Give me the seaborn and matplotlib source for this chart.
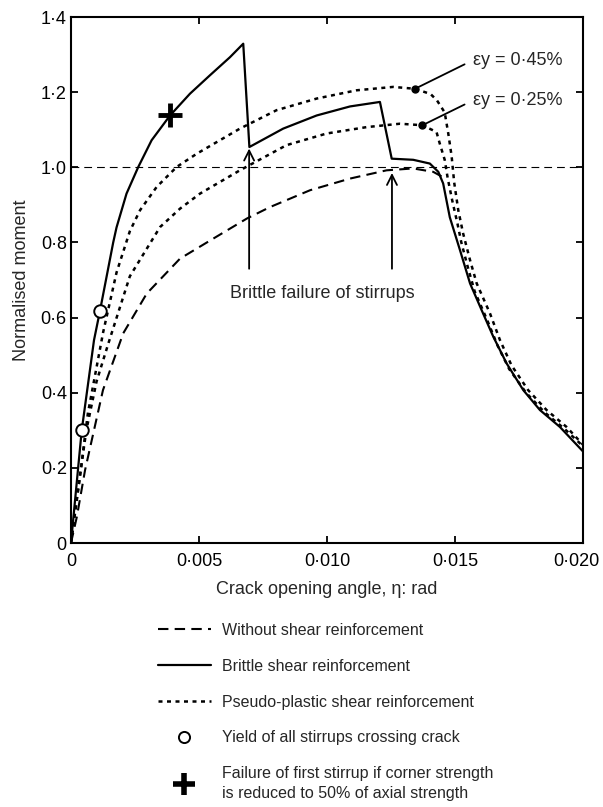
import matplotlib
matplotlib.use("Agg")
import matplotlib.pyplot as plt
from matplotlib.lines import Line2D
from matplotlib.ticker import FixedLocator, FixedFormatter
from matplotlib.transforms import ScaledTranslation
import seaborn as sns


# crack opening angle (rad) / normalised moment
brittle_x = [0, 0.00042, 0.0009, 0.00113, 0.00165, 0.00178, 0.00217, 0.00263,
             0.00315, 0.00387, 0.00465, 0.00543, 0.00621, 0.00673, 0.00697,
             0.00829, 0.0096, 0.0109, 0.01207, 0.01253, 0.01337, 0.01402,
             0.01435, 0.01454, 0.0148, 0.0152, 0.01559, 0.0161, 0.0165,
             0.01702, 0.01767, 0.01832, 0.0191, 0.020]
brittle_y = [0, 0.30, 0.54, 0.617, 0.80, 0.84, 0.93, 1.001,
             1.072, 1.138, 1.196, 1.245, 1.293, 1.329, 1.054,
             1.103, 1.138, 1.162, 1.174, 1.023, 1.02, 1.01,
             0.988, 0.957, 0.867, 0.779, 0.691, 0.611, 0.549,
             0.478, 0.407, 0.354, 0.309, 0.244]

plastic45_x = [0, 0.0003, 0.00066, 0.00126, 0.00178, 0.0023, 0.0027, 0.00335,
               0.00413, 0.00491, 0.00569, 0.0066, 0.00803, 0.0096, 0.01116,
               0.01259, 0.01344, 0.01405, 0.0143, 0.0146, 0.01474, 0.01487,
               0.01497, 0.01513, 0.01532, 0.01559, 0.01585, 0.01637, 0.01676,
               0.01721, 0.01786, 0.01858, 0.01936, 0.020]
plastic45_y = [0, 0.15, 0.345, 0.562, 0.72, 0.83, 0.886, 0.948,
               1.001, 1.036, 1.067, 1.103, 1.152, 1.183, 1.205,
               1.214, 1.209, 1.195, 1.178, 1.146, 1.09, 1.03,
               0.96, 0.886, 0.824, 0.753, 0.691, 0.611, 0.54,
               0.473, 0.407, 0.354, 0.309, 0.262]

plastic25_x = [0, 0.00025, 0.0006, 0.001, 0.00146, 0.0023, 0.00348, 0.00426,
               0.00504, 0.00582, 0.0066, 0.00842, 0.00999, 0.01155, 0.01285,
               0.01373, 0.01428, 0.0144, 0.0146, 0.01472, 0.0149, 0.0151,
               0.01525, 0.0155, 0.01577, 0.01628, 0.01667, 0.01712, 0.01778,
               0.0185, 0.01928, 0.020]
plastic25_y = [0, 0.13, 0.30, 0.43, 0.531, 0.71, 0.841, 0.89,
               0.93, 0.961, 0.992, 1.059, 1.09, 1.107, 1.116,
               1.112, 1.094, 1.065, 1.02, 0.97, 0.91, 0.85,
               0.80, 0.735, 0.67, 0.59, 0.525, 0.463, 0.40,
               0.348, 0.304, 0.258]

plain_x = [0, 0.00023, 0.00055, 0.00125, 0.00204, 0.00296, 0.00426, 0.0057,
           0.00688, 0.00777, 0.00934, 0.0109, 0.01233, 0.01337, 0.01415, 0.0145]
plain_y = [0, 0.07, 0.194, 0.407, 0.558, 0.664, 0.757, 0.816,
           0.864, 0.894, 0.939, 0.97, 0.992, 0.997, 0.988, 0.975]

yield_x = [0.00042, 0.00113]
yield_y = [0.30, 0.617]
fail_x = [0.00387]
fail_y = [1.138]

eps_labels = ["εy = 0·45%", "εy = 0·25%"]
eps_x = [0.01344, 0.01373]
eps_y = [1.209, 1.112]
eps_text_y = [1.285, 1.178]

arrow_x = [0.00696, 0.01254]
arrow_top = [1.05, 0.985]
arrow_bottom = [0.73, 0.73]

x_ticks = [0, 0.005, 0.010, 0.015, 0.020]
x_labels = ["0", "0·005", "0·010", "0·015", "0·020"]
y_ticks = [0, 0.2, 0.4, 0.6, 0.8, 1.0, 1.2, 1.4]
y_labels = ["0", "0·2", "0·4", "0·6", "0·8", "1·0", "1·2", "1·4"]

legend_labels = [
    "Without shear reinforcement",
    "Brittle shear reinforcement",
    "Pseudo-plastic shear reinforcement",
    "Yield of all stirrups crossing crack",
    "Failure of first stirrup if corner strength\nis reduced to 50% of axial strength",
]

DASHED = (0, (5, 3))
DOTTED = (0, (1.6, 1.8))


sns.set_theme(style="ticks")
plt.rcParams["font.family"] = ["Liberation Sans", "DejaVu Sans"]

fig = plt.figure(figsize=(6.03, 8.07), dpi=100)
ax = fig.add_axes([0.1177, 0.3271, 0.849, 0.6518])

ax.axhline(1.0, color="black", lw=0.8, linestyle=(0, (7, 4.5)), zorder=1)

sns.lineplot(x=plain_x, y=plain_y, ax=ax, sort=False, estimator=None,
             color="black", lw=1.5, linestyle=DASHED)
sns.lineplot(x=plastic45_x, y=plastic45_y, ax=ax, sort=False, estimator=None,
             color="black", lw=1.8, linestyle=DOTTED)
sns.lineplot(x=plastic25_x, y=plastic25_y, ax=ax, sort=False, estimator=None,
             color="black", lw=1.8, linestyle=DOTTED)
sns.lineplot(x=brittle_x, y=brittle_y, ax=ax, sort=False, estimator=None,
             color="black", lw=1.6)

ax.plot(yield_x, yield_y, ls="none", marker="o", ms=9, mfc="white",
        mec="black", mew=1.4, zorder=5)
ax.plot(fail_x, fail_y, ls="none", marker="+", ms=17, mec="black",
        mew=3.5, zorder=5)

for label, ex, ey, ty in zip(eps_labels, eps_x, eps_y, eps_text_y):
    ax.plot(ex, ey, ls="none", marker="o", ms=5, color="black", zorder=5)
    ax.annotate(label, xy=(ex, ey), xytext=(0.0157, ty),
                ha="left", va="center", fontsize=13,
                arrowprops=dict(arrowstyle="-", color="black", lw=1.3,
                                relpos=(0, 0.5), shrinkA=4, shrinkB=0))

for ax_x, top, bot in zip(arrow_x, arrow_top, arrow_bottom):
    ax.annotate("", xy=(ax_x, top), xytext=(ax_x, bot),
                arrowprops=dict(arrowstyle="->,head_length=0.6,head_width=0.3",
                                color="black", lw=1.3, shrinkA=0, shrinkB=0))

ax.text(0.0098, 0.665, "Brittle failure of stirrups", ha="center",
        va="center", fontsize=13)

ax.set_xlim(0, 0.020)
ax.set_ylim(0, 1.4)
ax.xaxis.set_major_locator(FixedLocator(x_ticks))
ax.xaxis.set_major_formatter(FixedFormatter(x_labels))
ax.yaxis.set_major_locator(FixedLocator(y_ticks))
ax.yaxis.set_major_formatter(FixedFormatter(y_labels))
ax.tick_params(direction="in", length=5, width=1.3, labelsize=13,
               top=True, right=True, colors="black")
ax.tick_params(axis="x", pad=7)
ax.tick_params(axis="y", pad=3)
for spine in ax.spines.values():
    spine.set_visible(True)
    spine.set_linewidth(1.5)
    spine.set_color("black")

# last x label sits a little inside the figure edge
last = ax.get_xticklabels()[-1]
last.set_transform(last.get_transform() + ScaledTranslation(-0.07, 0, fig.dpi_scale_trans))

ax.set_xlabel("Crack opening angle, η: rad", fontsize=13, labelpad=8)
ax.set_ylabel("Normalised moment", fontsize=13, labelpad=8)

handles = [
    Line2D([], [], color="black", lw=1.5, linestyle=DASHED),
    Line2D([], [], color="black", lw=1.6),
    Line2D([], [], color="black", lw=1.8, linestyle=DOTTED),
    Line2D([], [], ls="none", marker="o", ms=8, mfc="white", mec="black", mew=1.4),
    Line2D([], [], ls="none", marker="+", ms=16, mec="black", mew=4),
]
leg = fig.legend(handles, legend_labels, loc="upper left",
                 bbox_to_anchor=(158 / 603, 1 - 623 / 807), frameon=False,
                 handlelength=3.3, handletextpad=0.7, labelspacing=1.3,
                 fontsize=11.5, borderpad=0, borderaxespad=0)
for t in leg.get_texts():
    t.set_linespacing(1.45)

fig.savefig("out.png", dpi=100)
